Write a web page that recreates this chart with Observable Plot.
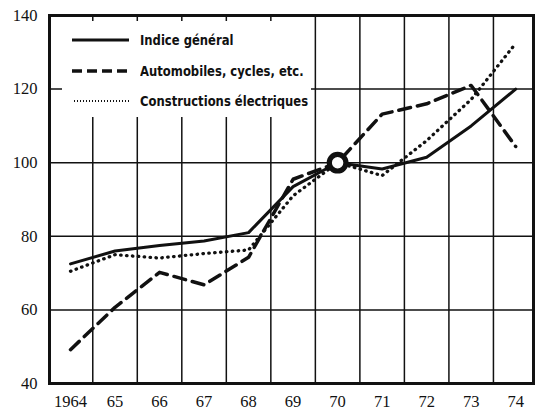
<!DOCTYPE html>
<html><head><meta charset="utf-8">
<script src="https://cdn.jsdelivr.net/npm/d3@7"></script>
<script src="https://cdn.jsdelivr.net/npm/@observablehq/plot@0.6"></script>
<style>
body{margin:0;background:#fff;}
#wrap{position:relative;width:536px;height:415px;}
#legend{position:absolute;left:62px;top:21px;width:249px;height:96px;background:#fff;
  font-family:"Liberation Sans Narrow","DejaVu Sans Condensed","Liberation Sans",sans-serif;font-weight:bold;font-size:14.5px;color:#111;}
.row{position:absolute;left:0;height:20px;width:249px;}
.row svg{position:absolute;left:0;top:0;}
.row span{position:absolute;left:78px;top:0;line-height:20px;white-space:nowrap;transform:scaleX(0.89);transform-origin:0 50%;}
</style></head>
<body><div id="wrap"><div id="chart"></div><div id="legend"></div></div>
<script>
const years = [1964, 1965, 1966, 1967, 1968, 1969, 1970, 1971, 1972, 1973, 1974];
const tickLabels = ["1964", "65", "66", "67", "68", "69", "70", "71", "72", "73", "74"];
const yTicks = [40, 60, 80, 100, 120, 140];
const seriesNames = ["Indice général", "Automobiles, cycles, etc.", "Constructions électriques"];
const indiceGeneral = [72.5, 76, 77.5, 78.7, 81, 93.5, 100, 98.3, 101.5, 110, 120];
const automobiles = [49.2, 60.7, 70.2, 66.8, 74.3, 95.5, 100, 113.2, 116, 121, 104.4];
const electriques = [70.5, 75, 74.1, 75.3, 76.3, 91, 100, 96.5, 106, 117.2, 132.4];
const baseYear = 1970;

const seriesValues = [indiceGeneral, automobiles, electriques];
const data = seriesNames.flatMap((s, k) => years.map((yr, i) => ({series: s, year: yr, value: seriesValues[k][i]})));
const gridX = years.slice(0, -1).map(y => y + 0.5);
const gridY = yTicks.slice(1, -1);
const styles = [
  {strokeWidth: 3},
  {strokeWidth: 3.5, strokeDasharray: "12 7"},
  {strokeWidth: 3.3, strokeDasharray: "0.5 5.4", strokeLinecap: "round"}
];

const chart = Plot.plot({
  width: 536, height: 415,
  marginLeft: 49, marginRight: 3, marginTop: 15, marginBottom: 32,
  style: {fontFamily: "'Liberation Serif', 'DejaVu Serif', serif", fontSize: "16.5px", color: "#111", background: "#fff"},
  x: {domain: [1963.528, 1974.40]},
  y: {domain: [40, 140]},
  marks: [
    Plot.ruleX(gridX, {stroke: "#111", strokeWidth: 1.5}),
    Plot.ruleY(gridY, {stroke: "#111", strokeWidth: 1.5}),
    ...seriesNames.map((s, k) => Plot.line(data.filter(d => d.series === s), {x: "year", y: "value", stroke: "#111", ...styles[k]})),
    Plot.dot(data.filter(d => d.year === baseYear && d.series === seriesNames[0]), {x: "year", y: "value", r: 8.3, fill: "#fff", stroke: "#111", strokeWidth: 5.2}),
    Plot.frame({stroke: "#111", strokeWidth: 3}),
    Plot.axisX({ticks: years, tickFormat: (d, i) => tickLabels[i], tickSize: 0, tickPadding: 12, label: null}),
    Plot.axisY({ticks: yTicks, tickSize: 0, tickPadding: 12, label: null})
  ]
});
document.getElementById("chart").appendChild(chart);

const legend = document.getElementById("legend");
const dashes = ["", "10 5", "1 2"];
const widths = [3, 3.5, 1.8];
const rowTops = [9, 40, 70];
seriesNames.forEach((s, k) => {
  const row = document.createElement("div");
  row.className = "row";
  row.style.top = rowTops[k] + "px";
  const xs = k === 2 ? 12 : 10;
  row.innerHTML = `<svg width="72" height="20"><line x1="${xs}" x2="${xs + 57}" y1="10" y2="10" stroke="#111" stroke-width="${widths[k]}" stroke-dasharray="${dashes[k]}"/></svg><span>${s}</span>`;
  legend.appendChild(row);
});
</script>
</body></html>
